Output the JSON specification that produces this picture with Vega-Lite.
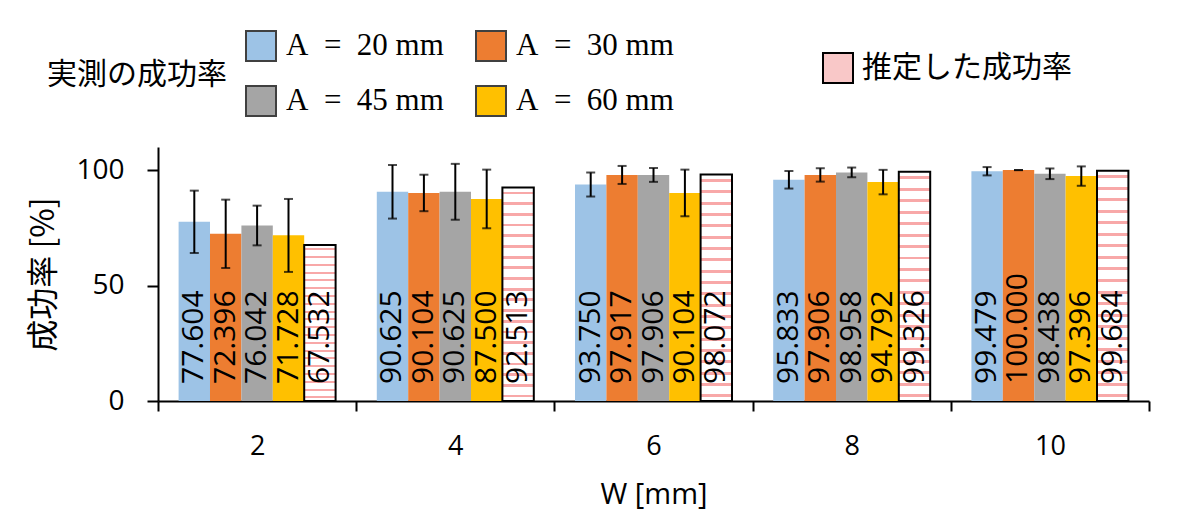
{
  "$schema": "https://vega.github.io/schema/vega-lite/v6.json",
  "width": 991,
  "height": 254,
  "autosize": "none",
  "padding": {"left": 158, "top": 147, "right": 51, "bottom": 115},
  "background": "white",
  "config": {"view": {"stroke": null}, "font": "Open Sans"},
  "data": {
    "values": [
      {"W": "2", "series": "A = 20 mm", "kind": "実測の成功率", "value": 77.604, "lo": 64.1, "hi": 91.1},
      {"W": "2", "series": "A = 30 mm", "kind": "実測の成功率", "value": 72.396, "lo": 57.6, "hi": 87.2},
      {"W": "2", "series": "A = 45 mm", "kind": "実測の成功率", "value": 76.042, "lo": 67.4, "hi": 84.6},
      {"W": "2", "series": "A = 60 mm", "kind": "実測の成功率", "value": 71.728, "lo": 55.9, "hi": 87.5},
      {"W": "2", "series": "推定した成功率", "kind": "推定した成功率", "value": 67.532},
      {"W": "4", "series": "A = 20 mm", "kind": "実測の成功率", "value": 90.625, "lo": 79.0, "hi": 102.2},
      {"W": "4", "series": "A = 30 mm", "kind": "実測の成功率", "value": 90.104, "lo": 82.2, "hi": 98.0},
      {"W": "4", "series": "A = 45 mm", "kind": "実測の成功率", "value": 90.625, "lo": 78.5, "hi": 102.7},
      {"W": "4", "series": "A = 60 mm", "kind": "実測の成功率", "value": 87.5, "lo": 74.8, "hi": 100.2},
      {"W": "4", "series": "推定した成功率", "kind": "推定した成功率", "value": 92.513},
      {"W": "6", "series": "A = 20 mm", "kind": "実測の成功率", "value": 93.75, "lo": 88.55, "hi": 98.95},
      {"W": "6", "series": "A = 30 mm", "kind": "実測の成功率", "value": 97.917, "lo": 94.0, "hi": 101.8},
      {"W": "6", "series": "A = 45 mm", "kind": "実測の成功率", "value": 97.906, "lo": 94.9, "hi": 100.9},
      {"W": "6", "series": "A = 60 mm", "kind": "実測の成功率", "value": 90.104, "lo": 80.0, "hi": 100.2},
      {"W": "6", "series": "推定した成功率", "kind": "推定した成功率", "value": 98.072},
      {"W": "8", "series": "A = 20 mm", "kind": "実測の成功率", "value": 95.833, "lo": 92.0, "hi": 99.6},
      {"W": "8", "series": "A = 30 mm", "kind": "実測の成功率", "value": 97.906, "lo": 95.0, "hi": 100.8},
      {"W": "8", "series": "A = 45 mm", "kind": "実測の成功率", "value": 98.958, "lo": 96.9, "hi": 101.1},
      {"W": "8", "series": "A = 60 mm", "kind": "実測の成功率", "value": 94.792, "lo": 89.5, "hi": 100.1},
      {"W": "8", "series": "推定した成功率", "kind": "推定した成功率", "value": 99.326},
      {"W": "10", "series": "A = 20 mm", "kind": "実測の成功率", "value": 99.479, "lo": 97.7, "hi": 101.3},
      {"W": "10", "series": "A = 30 mm", "kind": "実測の成功率", "value": 100.0, "lo": 100.0, "hi": 100.0},
      {"W": "10", "series": "A = 45 mm", "kind": "実測の成功率", "value": 98.438, "lo": 96.1, "hi": 100.7},
      {"W": "10", "series": "A = 60 mm", "kind": "実測の成功率", "value": 97.396, "lo": 93.2, "hi": 101.6},
      {"W": "10", "series": "推定した成功率", "kind": "推定した成功率", "value": 99.684}
    ]
  },
  "encoding": {
    "x": {
      "field": "W", "type": "ordinal", "sort": ["2", "4", "6", "8", "10"],
      "scale": {"paddingInner": 0, "paddingOuter": 0},
      "axis": {
        "title": "W [mm]", "titleFont": "Open Sans", "titleFontSize": 29, "titleFontWeight": "normal",
        "titleColor": "black", "titleY": 93, "titleBaseline": "middle",
        "labelFont": "Open Sans", "labelFontSize": 27, "labelColor": "black", "labelAngle": 0, "labelPadding": 22,
        "tickBand": "extent", "tickSize": 10, "tickWidth": 2, "tickColor": "black",
        "domainColor": "black", "domainWidth": 2
      }
    },
    "xOffset": {
      "field": "series", "type": "nominal",
      "scale": {"domain": ["A = 20 mm", "A = 30 mm", "A = 45 mm", "A = 60 mm", "推定した成功率"], "paddingInner": 0, "paddingOuter": 0.656}
    }
  },
  "layer": [
    {
      "transform": [{"filter": "datum.kind === '実測の成功率'"}],
      "mark": {"type": "bar"},
      "encoding": {
        "y": {
          "field": "value", "type": "quantitative", "scale": {"domain": [0, 110], "nice": false},
          "axis": {
            "title": "成功率 [%]", "titleFont": "Noto Sans CJK JP", "titleFontSize": 32, "titleFontWeight": "normal",
            "titleColor": "black", "titleX": -115, "titleY": 127, "titleBaseline": "middle", "titleAngle": 270,
            "values": [0, 50, 100], "grid": false,
            "labelFont": "Open Sans", "labelFontSize": 28, "labelColor": "black", "labelPadding": 23,
            "tickSize": 11, "tickWidth": 2, "tickColor": "black", "domainColor": "black", "domainWidth": 2
          }
        },
        "fill": {
          "field": "series", "type": "nominal",
          "scale": {"domain": ["A = 20 mm", "A = 45 mm", "A = 30 mm", "A = 60 mm"], "range": ["#9DC3E6", "#A5A5A5", "#ED7D31", "#FFC000"]},
          "legend": {
            "title": "実測の成功率", "titleOrient": "left", "titleAnchor": "middle", "titleBaseline": "middle",
            "titleFont": "Noto Sans CJK JP", "titleFontSize": 30, "titleFontWeight": "normal", "titleColor": "black", "titlePadding": 18,
            "orient": "none", "legendX": -111, "legendY": -117, "columns": 2, "columnPadding": 28, "rowPadding": 17,
            "symbolType": "square", "symbolSize": 900, "labelOffset": 9, "labelLimit": 400,
            "labelExpr": "replace(datum.label, ' = ', '\u2002=\u2002')",
            "labelFont": "Liberation Serif", "labelFontSize": 31, "labelColor": "black", "padding": 0,
            "symbolStrokeColor": "#404040", "symbolStrokeWidth": 2,
            "encode": {"symbols": {"update": {"stroke": {"value": "#404040"}, "strokeWidth": {"value": 2}}}}
          }
        }
      }
    },
    {
      "transform": [{"filter": "datum.kind === '推定した成功率'"}],
      "mark": {
        "type": "bar", "strokeWidth": 2, "stroke": "black",
        "fill": {
          "gradient": "linear", "x1": 0, "y1": 0, "x2": 0, "y2": 1,
          "stops": [
            {"offset": 0, "color": "white"},
            {"offset": 0.02, "color": "white"}, {"offset": 0.02, "color": "#F8A8A8"}, {"offset": 0.033, "color": "#F8A8A8"}, {"offset": 0.033, "color": "white"},
            {"offset": 0.07, "color": "white"}, {"offset": 0.07, "color": "#F8A8A8"}, {"offset": 0.083, "color": "#F8A8A8"}, {"offset": 0.083, "color": "white"},
            {"offset": 0.12, "color": "white"}, {"offset": 0.12, "color": "#F8A8A8"}, {"offset": 0.133, "color": "#F8A8A8"}, {"offset": 0.133, "color": "white"},
            {"offset": 0.17, "color": "white"}, {"offset": 0.17, "color": "#F8A8A8"}, {"offset": 0.183, "color": "#F8A8A8"}, {"offset": 0.183, "color": "white"},
            {"offset": 0.22, "color": "white"}, {"offset": 0.22, "color": "#F8A8A8"}, {"offset": 0.233, "color": "#F8A8A8"}, {"offset": 0.233, "color": "white"},
            {"offset": 0.27, "color": "white"}, {"offset": 0.27, "color": "#F8A8A8"}, {"offset": 0.283, "color": "#F8A8A8"}, {"offset": 0.283, "color": "white"},
            {"offset": 0.32, "color": "white"}, {"offset": 0.32, "color": "#F8A8A8"}, {"offset": 0.333, "color": "#F8A8A8"}, {"offset": 0.333, "color": "white"},
            {"offset": 0.37, "color": "white"}, {"offset": 0.37, "color": "#F8A8A8"}, {"offset": 0.383, "color": "#F8A8A8"}, {"offset": 0.383, "color": "white"},
            {"offset": 0.42, "color": "white"}, {"offset": 0.42, "color": "#F8A8A8"}, {"offset": 0.433, "color": "#F8A8A8"}, {"offset": 0.433, "color": "white"},
            {"offset": 0.47, "color": "white"}, {"offset": 0.47, "color": "#F8A8A8"}, {"offset": 0.483, "color": "#F8A8A8"}, {"offset": 0.483, "color": "white"},
            {"offset": 0.52, "color": "white"}, {"offset": 0.52, "color": "#F8A8A8"}, {"offset": 0.533, "color": "#F8A8A8"}, {"offset": 0.533, "color": "white"},
            {"offset": 0.57, "color": "white"}, {"offset": 0.57, "color": "#F8A8A8"}, {"offset": 0.583, "color": "#F8A8A8"}, {"offset": 0.583, "color": "white"},
            {"offset": 0.62, "color": "white"}, {"offset": 0.62, "color": "#F8A8A8"}, {"offset": 0.633, "color": "#F8A8A8"}, {"offset": 0.633, "color": "white"},
            {"offset": 0.67, "color": "white"}, {"offset": 0.67, "color": "#F8A8A8"}, {"offset": 0.683, "color": "#F8A8A8"}, {"offset": 0.683, "color": "white"},
            {"offset": 0.72, "color": "white"}, {"offset": 0.72, "color": "#F8A8A8"}, {"offset": 0.733, "color": "#F8A8A8"}, {"offset": 0.733, "color": "white"},
            {"offset": 0.77, "color": "white"}, {"offset": 0.77, "color": "#F8A8A8"}, {"offset": 0.783, "color": "#F8A8A8"}, {"offset": 0.783, "color": "white"},
            {"offset": 0.82, "color": "white"}, {"offset": 0.82, "color": "#F8A8A8"}, {"offset": 0.833, "color": "#F8A8A8"}, {"offset": 0.833, "color": "white"},
            {"offset": 0.87, "color": "white"}, {"offset": 0.87, "color": "#F8A8A8"}, {"offset": 0.883, "color": "#F8A8A8"}, {"offset": 0.883, "color": "white"},
            {"offset": 0.92, "color": "white"}, {"offset": 0.92, "color": "#F8A8A8"}, {"offset": 0.933, "color": "#F8A8A8"}, {"offset": 0.933, "color": "white"},
            {"offset": 0.97, "color": "white"}, {"offset": 0.97, "color": "#F8A8A8"}, {"offset": 0.983, "color": "#F8A8A8"}, {"offset": 0.983, "color": "white"},
            {"offset": 1, "color": "white"}
          ]
        }
      },
      "encoding": {
        "y": {"field": "value", "type": "quantitative"},
        "color": {
          "field": "kind", "type": "nominal",
          "scale": {"domain": ["推定した成功率"], "range": ["#F9C8C8"]},
          "legend": {
            "title": null, "orient": "none", "legendX": 664, "legendY": -95, "padding": 0,
            "symbolType": "square", "symbolSize": 900, "symbolStrokeColor": "black", "symbolStrokeWidth": 2, "labelOffset": 8, "labelLimit": 400,
            "labelFont": "Noto Sans CJK JP", "labelFontSize": 30, "labelColor": "black"
          }
        }
      }
    },
    {
      "transform": [{"filter": "datum.kind === '実測の成功率'"}],
      "mark": {"type": "rule", "color": "black", "strokeWidth": 2},
      "encoding": {
        "y": {"field": "lo", "type": "quantitative"},
        "y2": {"field": "hi"}
      }
    },
    {
      "transform": [{"filter": "datum.kind === '実測の成功率'"}],
      "mark": {"type": "tick", "color": "black", "size": 9, "thickness": 2},
      "encoding": {
        "y": {"field": "lo", "type": "quantitative"}
      }
    },
    {
      "transform": [{"filter": "datum.kind === '実測の成功率'"}],
      "mark": {"type": "tick", "color": "black", "size": 9, "thickness": 2},
      "encoding": {
        "y": {"field": "hi", "type": "quantitative"}
      }
    },
    {
      "mark": {"type": "text", "angle": 270, "align": "left", "baseline": "middle", "dx": 17, "fontSize": 30, "font": "Open Sans", "color": "black"},
      "encoding": {
        "y": {"datum": 0, "type": "quantitative"},
        "text": {"field": "value", "type": "quantitative", "format": ".3f"}
      }
    }
  ]
}
